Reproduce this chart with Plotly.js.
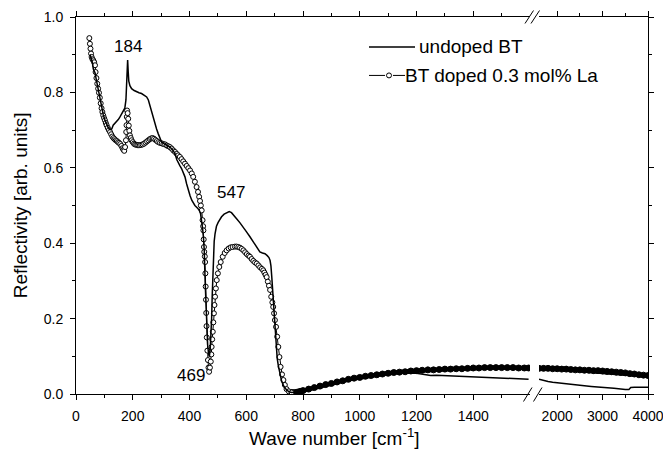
<!DOCTYPE html>
<html>
<head>
<meta charset="utf-8">
<script src="https://cdn.plot.ly/plotly-3.0.1.min.js"></script>
<style>html,body{margin:0;padding:0;background:#fff;}#chart{width:663px;height:452px;}</style>
</head>
<body>
<div id="chart"></div>
<script>
// ---- Data ----
// BT doped 0.3 mol% La (circles), left (0-1600) segment
const dopedX = [47,49,51,53,55,58,61,64,67,69,72,75,78,81,84,87,90,93,96,99,102,105,108,112,116,120,124,128,132,136,140,144,148,152,156,160,164,167,170,173,176,177,178,179,180,182,184,186,188,190,193,196,200,204,208,212,216,220,225,230,235,240,245,250,255,260,265,270,275,280,285,290,296,302,308,314,320,326,331,337,343,349,355,360,366,372,378,384,390,396,402,408,413,419,425,430,434,437,440,443,446,448,449,450,451,452,454,455,456,457,458,459,460,461,463,465,467,469,472,475,477,478,480,482,484,486,488,490,493,496,500,505,510,517,524,531,538,545,552,560,566,572,578,584,590,596,602,608,613,619,625,631,637,643,649,655,660,664,668,672,676,680,684,688,692,695,698,701,705,709,713,717,721,726,731,736,742,750,760,770,780,790,800,820,840,860,880,900,920,940,960,980,1000,1020,1040,1060,1080,1100,1120,1140,1160,1180,1200,1220,1240,1260,1280,1300,1320,1340,1360,1380,1400,1420,1440,1460,1480,1500,1520,1540,1560,1580,1595];
const dopedY = [0.944,0.929,0.916,0.903,0.894,0.888,0.885,0.880,0.872,0.854,0.838,0.823,0.810,0.799,0.786,0.771,0.758,0.748,0.739,0.732,0.726,0.719,0.713,0.706,0.700,0.695,0.689,0.683,0.679,0.676,0.673,0.671,0.668,0.666,0.663,0.658,0.652,0.648,0.645,0.655,0.673,0.695,0.713,0.735,0.752,0.745,0.730,0.712,0.698,0.686,0.679,0.673,0.668,0.664,0.662,0.661,0.660,0.660,0.660,0.661,0.662,0.664,0.667,0.670,0.673,0.676,0.678,0.679,0.677,0.674,0.671,0.668,0.666,0.665,0.663,0.662,0.659,0.657,0.655,0.651,0.646,0.642,0.637,0.633,0.629,0.623,0.617,0.611,0.605,0.599,0.593,0.585,0.576,0.563,0.549,0.536,0.523,0.512,0.500,0.487,0.461,0.445,0.434,0.410,0.390,0.377,0.365,0.350,0.320,0.285,0.250,0.215,0.180,0.150,0.115,0.090,0.070,0.059,0.070,0.086,0.105,0.125,0.145,0.165,0.190,0.214,0.236,0.258,0.280,0.302,0.320,0.337,0.350,0.364,0.374,0.381,0.386,0.389,0.390,0.391,0.391,0.390,0.388,0.385,0.381,0.376,0.371,0.367,0.364,0.358,0.353,0.349,0.346,0.341,0.336,0.332,0.328,0.322,0.316,0.310,0.298,0.287,0.276,0.258,0.243,0.231,0.214,0.196,0.178,0.152,0.125,0.098,0.072,0.052,0.037,0.024,0.013,0.007,0.004,0.004,0.005,0.007,0.009,0.013,0.017,0.021,0.025,0.028,0.032,0.035,0.039,0.042,0.044,0.047,0.049,0.051,0.053,0.055,0.057,0.058,0.059,0.061,0.062,0.063,0.064,0.064,0.065,0.066,0.066,0.067,0.067,0.068,0.069,0.069,0.070,0.070,0.070,0.070,0.070,0.070,0.069,0.069,0.069];
// doped, right (1600-4000) segment
const dopedX2 = [1600,1700,1800,1900,2000,2100,2200,2300,2400,2500,2600,2700,2800,2900,3000,3100,3200,3300,3400,3500,3600,3700,3800,3900,4000];
const dopedY2 = [0.068,0.068,0.068,0.067,0.067,0.066,0.066,0.065,0.064,0.064,0.063,0.063,0.062,0.062,0.061,0.060,0.059,0.058,0.057,0.056,0.054,0.053,0.051,0.050,0.049];

// undoped BT (solid line), left segment
const undX = [50,55,58,61,64,67,70,73,79,85,90,96,102,108,114,120,126,131,140,149,155,161,167,172,176,179,182,184,186,190,196,205,214,222,231,240,249,255,258,261,264,267,272,278,284,290,296,302,310,320,331,340,349,355,360,366,372,378,384,390,396,402,408,414,419,427,434,439,443,446,449,452,455,458,461,464,467,470,473,476,478,480,482,484,487,490,495,501,507,513,522,531,540,548,557,566,578,590,601,613,625,637,648,657,666,674,680,684,687,690,693,697,701,705,709,713,719,725,733,742,751,760,775,789,820,850,900,950,1000,1050,1100,1150,1200,1230,1250,1270,1300,1350,1400,1450,1500,1550,1595];
const undY = [0.900,0.888,0.878,0.862,0.858,0.852,0.840,0.828,0.805,0.781,0.762,0.741,0.726,0.714,0.706,0.701,0.703,0.713,0.720,0.728,0.735,0.743,0.750,0.758,0.780,0.830,0.886,0.855,0.830,0.818,0.810,0.805,0.801,0.799,0.797,0.793,0.788,0.780,0.772,0.766,0.755,0.744,0.730,0.717,0.703,0.690,0.677,0.668,0.664,0.660,0.655,0.648,0.638,0.622,0.613,0.606,0.598,0.588,0.576,0.557,0.540,0.526,0.514,0.506,0.500,0.494,0.488,0.478,0.461,0.440,0.417,0.381,0.300,0.220,0.170,0.130,0.108,0.099,0.120,0.160,0.200,0.260,0.320,0.370,0.405,0.425,0.445,0.455,0.463,0.470,0.477,0.481,0.484,0.481,0.474,0.465,0.454,0.443,0.430,0.417,0.403,0.390,0.377,0.374,0.372,0.367,0.362,0.354,0.340,0.310,0.276,0.225,0.170,0.125,0.095,0.075,0.050,0.033,0.020,0.011,0.006,0.004,0.005,0.008,0.012,0.018,0.027,0.036,0.043,0.049,0.054,0.056,0.055,0.052,0.049,0.050,0.049,0.047,0.045,0.043,0.042,0.041,0.039];
// undoped, right segment
const undX2 = [1600,1700,1800,1900,2000,2250,2500,2750,3000,3250,3500,3580,3620,3700,4000];
const undY2 = [0.039,0.035,0.033,0.031,0.030,0.027,0.023,0.020,0.018,0.015,0.012,0.012,0.017,0.018,0.018];

// tick values / labels
const xTicksLeft = [0,200,400,600,800,1000,1200,1400];
const xMinorLeft = [100,300,500,700,900,1100,1300,1500];
const xTicksRight = [2000,3000,4000];
const xMinorRight = [2500,3500];
const yTicks = [0,0.2,0.4,0.6,0.8,1.0];
const yTickText = ['0.0','0.2','0.4','0.6','0.8','1.0'];
const yMinor = [0.1,0.3,0.5,0.7,0.9];
const peakLabels = ['184','547','469'];
const seriesNames = ['undoped BT','BT doped 0.3 mol% La'];

// ---- layout helpers (pixel -> paper) ----
const L = 76, R = 648, T = 16.5, B = 394;
const fx = p => (p - L) / (R - L);
const fy = p => (B - p) / (B - T);
const FONT = 'Arial, "Liberation Sans", sans-serif';

// split the doped left series where the dense circles merge into a solid band
const cut = dopedX.findIndex(v => v >= 760);
const dopedXa = dopedX.slice(0, cut + 1), dopedYa = dopedY.slice(0, cut + 1);
const dopedXb = dopedX.slice(cut), dopedYb = dopedY.slice(cut);

const bandMarker = {symbol: 'circle', size: 6, color: 'black', line: {color: 'black', width: 1}};
const traces = [
  {x: dopedXb, y: dopedYb, xaxis: 'x', yaxis: 'y', mode: 'lines+markers', name: seriesNames[1],
   line: {color: 'black', width: 4.5}, marker: bandMarker},
  {x: dopedX2, y: dopedY2, xaxis: 'x2', yaxis: 'y2', mode: 'lines+markers', name: seriesNames[1],
   line: {color: 'black', width: 4.5}, marker: bandMarker},
  {x: dopedXa, y: dopedYa, xaxis: 'x', yaxis: 'y', mode: 'lines+markers', name: seriesNames[1],
   line: {color: 'black', width: 1},
   marker: {symbol: 'circle', size: 5, color: 'white', line: {color: 'black', width: 1}}},
  {x: undX, y: undY, xaxis: 'x', yaxis: 'y', mode: 'lines', name: seriesNames[0],
   line: {color: 'black', width: 1.5}},
  {x: undX2, y: undY2, xaxis: 'x2', yaxis: 'y2', mode: 'lines', name: seriesNames[0],
   line: {color: 'black', width: 1.5}}
];

const axCommon = {
  showline: true, linecolor: 'black', linewidth: 1, ticks: 'outside', ticklen: 5, tickwidth: 1,
  tickcolor: 'black', showgrid: false, zeroline: false, tickfont: {family: FONT, size: 14, color: 'black'},
  ticklabeloverflow: 'allow'
};

const layout = {
  width: 663, height: 452,
  margin: {l: L, r: 663 - R, t: T, b: 452 - B, pad: 0},
  paper_bgcolor: 'white', plot_bgcolor: 'white',
  showlegend: false,
  font: {family: FONT, color: 'black'},
  xaxis: Object.assign({}, axCommon, {
    domain: [0, fx(530)], range: [0, 1600], anchor: 'y', mirror: 'ticks',
    tickmode: 'array', tickvals: xTicksLeft, ticklabelstandoff: 4,
    minor: {tickmode: 'array', tickvals: xMinorLeft, ticks: 'outside', ticklen: 3, tickcolor: 'black'}
  }),
  xaxis2: Object.assign({}, axCommon, {
    domain: [fx(539), 1], range: [1600, 4000], anchor: 'y2', mirror: 'ticks',
    tickmode: 'array', tickvals: xTicksRight, ticklabelstandoff: 4,
    minor: {tickmode: 'array', tickvals: xMinorRight, ticks: 'outside', ticklen: 3, tickcolor: 'black'}
  }),
  yaxis: Object.assign({}, axCommon, {
    domain: [0, 1], range: [0, 1], anchor: 'x',
    tickmode: 'array', tickvals: yTicks, ticktext: yTickText, ticklabelstandoff: 4,
    minor: {tickmode: 'array', tickvals: yMinor, ticks: 'outside', ticklen: 3, tickcolor: 'black'}
  }),
  yaxis2: Object.assign({}, axCommon, {
    domain: [0, 1], range: [0, 1], anchor: 'x2', side: 'right', showticklabels: false,
    tickmode: 'array', tickvals: yTicks,
    minor: {tickmode: 'array', tickvals: yMinor, ticks: 'outside', ticklen: 3, tickcolor: 'black'}
  }),
  annotations: [
    {xref: 'x', yref: 'y', x: 184, y: 0.886, text: peakLabels[0], showarrow: false, yanchor: 'bottom', yshift: 2,
     font: {size: 17, color: 'black'}},
    {xref: 'x', yref: 'y', x: 547, y: 0.484, text: peakLabels[1], showarrow: false, yanchor: 'bottom', yshift: 8,
     font: {size: 17, color: 'black'}},
    {xref: 'x', yref: 'y', x: 469, y: 0.059, text: peakLabels[2], showarrow: false, xanchor: 'right', yanchor: 'middle', xshift: -2, yshift: -4,
     font: {size: 17, color: 'black'}},
    {xref: 'paper', yref: 'paper', x: fx(334), y: fy(437), text: 'Wave number [cm<sup>-1</sup>]', showarrow: false,
     xanchor: 'center', yanchor: 'middle', font: {size: 19, color: 'black'}},
    {xref: 'paper', yref: 'paper', x: fx(20), y: fy(205), text: 'Reflectivity [arb. units]', showarrow: false,
     textangle: -90, xanchor: 'center', yanchor: 'middle', font: {size: 19, color: 'black'}},
    {xref: 'paper', yref: 'paper', x: fx(417), y: fy(46.5), text: seriesNames[0], showarrow: false,
     xanchor: 'left', yanchor: 'middle', font: {size: 19, color: 'black'}},
    {xref: 'paper', yref: 'paper', x: fx(403), y: fy(75), text: seriesNames[1], showarrow: false,
     xanchor: 'left', yanchor: 'middle', font: {size: 19, color: 'black'}}
  ],
  shapes: [
    // legend samples
    {type: 'line', xref: 'paper', yref: 'paper', x0: fx(369), x1: fx(415), y0: fy(46.5), y1: fy(46.5), line: {color: 'black', width: 1.5}},
    {type: 'line', xref: 'paper', yref: 'paper', x0: fx(369), x1: fx(405), y0: fy(75), y1: fy(75), line: {color: 'black', width: 1}},
    {type: 'circle', xref: 'paper', yref: 'paper', x0: fx(385), x1: fx(393), y0: fy(79), y1: fy(71), fillcolor: 'white', line: {color: 'white', width: 0}},
    {type: 'circle', xref: 'paper', yref: 'paper', x0: fx(386.5), x1: fx(391.5), y0: fy(77.5), y1: fy(72.5), fillcolor: 'white', line: {color: 'black', width: 1}},
    // axis break marks, bottom
    {type: 'line', xref: 'paper', yref: 'paper', x0: fx(523.5), y0: fy(401.5), x1: fx(532), y1: fy(387.5), line: {color: 'black', width: 1}},
    {type: 'line', xref: 'paper', yref: 'paper', x0: fx(533.5), y0: fy(401.5), x1: fx(542), y1: fy(387.5), line: {color: 'black', width: 1}},
    // axis break marks, top
    {type: 'line', xref: 'paper', yref: 'paper', x0: fx(525), y0: fy(23), x1: fx(533.5), y1: fy(10), line: {color: 'black', width: 1}},
    {type: 'line', xref: 'paper', yref: 'paper', x0: fx(531), y0: fy(23), x1: fx(539.5), y1: fy(10), line: {color: 'black', width: 1}}
  ]
};

Plotly.newPlot('chart', traces, layout, {staticPlot: true, displayModeBar: false});
</script>
</body>
</html>
